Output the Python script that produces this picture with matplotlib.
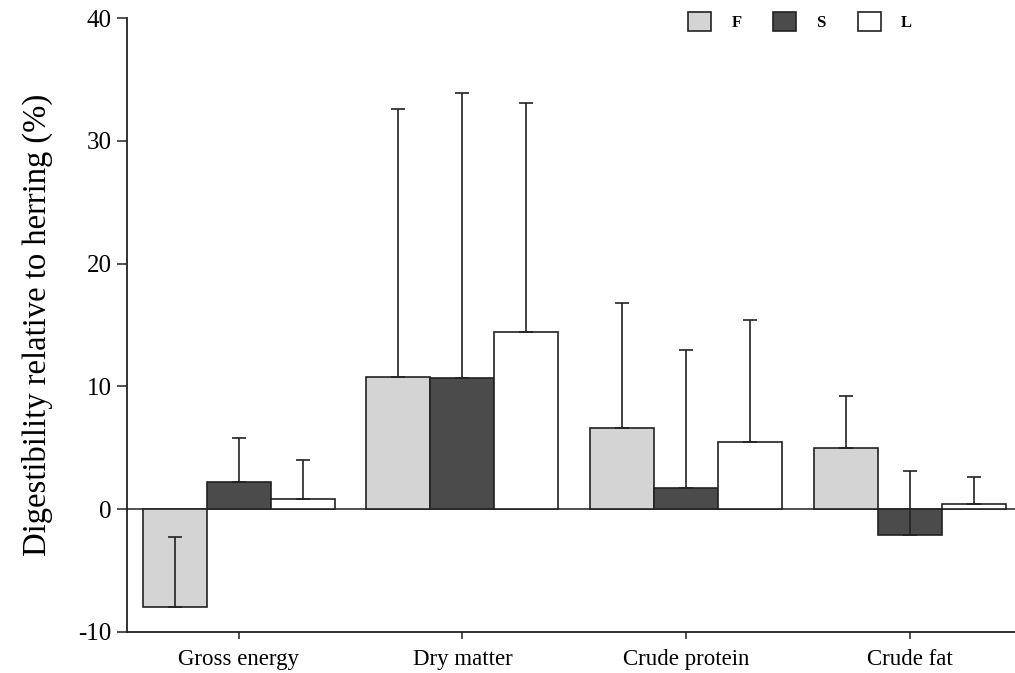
import matplotlib.pyplot as plt
import numpy as np

# nutrient categories and digestibility relative to herring (%)
categories = ['Gross energy', 'Dry matter', 'Crude protein', 'Crude fat']
series = ['F', 'S', 'L']
values_F = [-8.0, 10.8, 6.6, 5.0]
values_S = [2.2, 10.7, 1.7, -2.1]
values_L = [0.8, 14.4, 5.5, 0.4]
# upper error (SD) drawn from the mean upwards
err_F = [5.7, 21.8, 10.2, 4.2]
err_S = [3.6, 23.2, 11.3, 5.2]
err_L = [3.2, 18.7, 9.9, 2.2]

plt.rcParams['font.family'] = ['Liberation Serif', 'DejaVu Serif']
plt.rcParams['axes.unicode_minus'] = False

fig = plt.figure(figsize=(10.15, 6.73), dpi=100)
ax = fig.add_axes([0.125, 0.061, 0.875, 0.912])

colors = ['#d4d4d4', '#4b4b4b', '#ffffff']
x = np.arange(len(categories))
w = 0.286

for i, (vals, errs) in enumerate(zip([values_F, values_S, values_L],
                                     [err_F, err_S, err_L])):
    pos = x + (i - 1) * w
    ax.bar(pos, vals, w, color=colors[i], edgecolor='#222222',
           linewidth=1.2, label=series[i], zorder=2)
    ax.errorbar(pos, vals, yerr=[np.zeros(len(errs)), errs], fmt='none',
                ecolor='#222222', elinewidth=1.2, capsize=5, capthick=1.2,
                zorder=3)

ax.axhline(0, color='#333333', linewidth=1.2, zorder=1)

ax.set_xlim(-0.5, 3.47)
ax.set_ylim(-10, 40)
ax.set_yticks([-10, 0, 10, 20, 30, 40])
ax.set_xticks(x)
ax.set_xticklabels(categories)
ax.tick_params(axis='both', direction='out', width=1.1, color='#222222')
ax.tick_params(axis='y', length=7, pad=4, labelsize=18)
ax.tick_params(axis='x', length=5, pad=7, labelsize=16.5)
ax.set_ylabel('Digestibility relative to herring (%)', fontsize=23.5,
              labelpad=18)

for s in ['top', 'right']:
    ax.spines[s].set_visible(False)
for s in ['left', 'bottom']:
    ax.spines[s].set_linewidth(1.3)
    ax.spines[s].set_color('#222222')

ax.legend(loc='upper left', bbox_to_anchor=(688 / 1015, 1 - 12 / 673),
          bbox_transform=fig.transFigure, ncol=3, frameon=False,
          prop={'size': 12, 'weight': 'bold'}, handlelength=1.4,
          handleheight=1.4, handletextpad=1.2, columnspacing=1.9,
          borderpad=0, borderaxespad=0)

fig.savefig('out.png', dpi=100)
